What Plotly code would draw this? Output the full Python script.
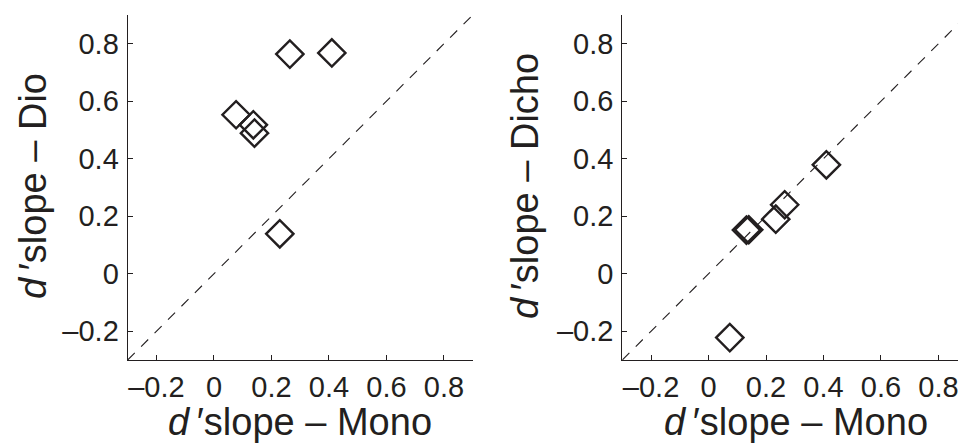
import plotly.graph_objects as go

# Data (d' slope values)
mono_left = [0.077, 0.137, 0.141, 0.229, 0.264, 0.410]
dio = [0.553, 0.518, 0.489, 0.139, 0.764, 0.768]

mono_right = [0.074, 0.132, 0.140, 0.234, 0.265, 0.410]
dicho = [-0.222, 0.152, 0.153, 0.190, 0.240, 0.379]

tick_vals = [-0.2, 0, 0.2, 0.4, 0.6, 0.8]
tick_text = ["\u20130.2", "0", "0.2", "0.4", "0.6", "0.8"]

axis_lo, axis_hi = -0.3, 0.9
right_x_hi = 0.868

FONT = "Liberation Sans, Arial, Helvetica, sans-serif"
INK = "#231f20"
W, H = 958, 444

fig = go.Figure()

# diagonal reference lines (y = x)
for xa, ya in (("x", "y"), ("x2", "y2")):
    fig.add_trace(go.Scatter(x=[axis_lo, axis_hi], y=[axis_lo, axis_hi], mode="lines",
                             line=dict(color=INK, width=1.1, dash="10px,9px"),
                             xaxis=xa, yaxis=ya, showlegend=False, hoverinfo="skip"))

marker = dict(symbol="diamond-open", size=21, color=INK, line=dict(width=2.4, color=INK))
fig.add_trace(go.Scatter(x=mono_left, y=dio, mode="markers", marker=marker,
                         xaxis="x", yaxis="y", showlegend=False))
fig.add_trace(go.Scatter(x=mono_right, y=dicho, mode="markers", marker=marker,
                         xaxis="x2", yaxis="y2", showlegend=False))

def ax(rng, dom, anchor, standoff):
    return dict(range=rng, domain=dom, anchor=anchor, showgrid=False, zeroline=False,
                showline=True, linecolor=INK, linewidth=1.2, mirror=False,
                ticks="inside", ticklen=5, tickwidth=1, tickcolor=INK,
                tickvals=tick_vals, ticktext=tick_text, ticklabeloverflow="allow",
                tickfont=dict(family=FONT, size=29, color=INK), ticklabelstandoff=standoff)

ydom = [84 / H, 429 / H]
fig.update_layout(
    width=W, height=H, margin=dict(l=0, r=0, t=0, b=0),
    paper_bgcolor="white", plot_bgcolor="white",
    xaxis=ax([axis_lo, axis_hi], [127.7 / W, 472.7 / W], "y", 1),
    yaxis=ax([axis_lo, axis_hi], ydom, "x", 2),
    xaxis2=ax([axis_lo, right_x_hi], [622.3 / W, 1.0], "y2", 1),
    yaxis2=ax([axis_lo, axis_hi], ydom, "x2", 2),
)

title_font = dict(family=FONT, size=38, color=INK)
xtitle = "<i>d</i>\u2009\u2032slope \u2013 Mono"
annots = [
    dict(text=xtitle, x=300 / W, y=(H - 422) / H, textangle=0),
    dict(text=xtitle, x=(622.3 + 174) / W, y=(H - 422) / H, textangle=0),
    dict(text="<i>d</i>\u2009\u2032slope \u2013 Dio", x=33 / W, y=(H - 186) / H, textangle=-90),
    dict(text="<i>d</i>\u2009\u2032slope \u2013 Dicho", x=525 / W, y=(H - 186) / H, textangle=-90),
]
for a in annots:
    fig.add_annotation(xref="paper", yref="paper", showarrow=False, font=title_font,
                       xanchor="center", yanchor="middle", **a)

fig.write_html("out.html", config={"displayModeBar": False},
               post_script="document.body.style.margin='0';document.body.style.overflow='hidden';")
